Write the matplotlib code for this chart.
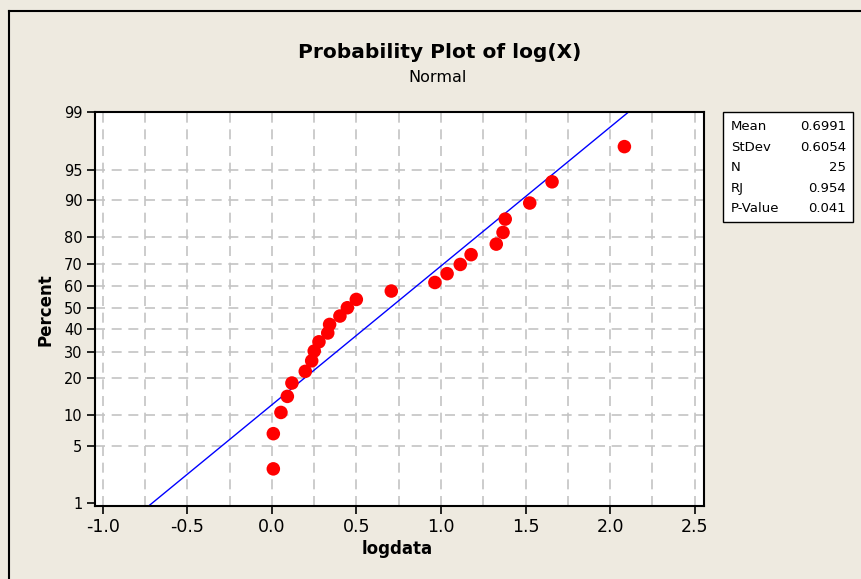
import matplotlib
matplotlib.use("Agg")
import matplotlib.pyplot as plt
from matplotlib.lines import Line2D
from matplotlib.patches import Rectangle
from statistics import NormalDist

# Sorted sample of log(X)
logdata = [0.008, 0.008, 0.053, 0.091, 0.118, 0.197, 0.235, 0.250, 0.278,
           0.330, 0.341, 0.402, 0.446, 0.499, 0.706, 0.964, 1.036, 1.114,
           1.178, 1.327, 1.367, 1.380, 1.525, 1.657, 2.085]

# Summary statistics of the fit
stat_names = ["Mean", "StDev", "N", "RJ", "P-Value"]
stat_values = ["0.6991", "0.6054", "25", "0.954", "0.041"]
mean_fit = 0.6991
sd_fit = 0.6054

percent_ticks = [1, 5, 10, 20, 30, 40, 50, 60, 70, 80, 90, 95, 99]
x_ticks = [-1.0, -0.5, 0.0, 0.5, 1.0, 1.5, 2.0, 2.5]

nd = NormalDist()
n = len(logdata)
# Median-rank plotting positions on the normal probability scale
z_pts = [nd.inv_cdf((i - 0.3) / (n + 0.4)) for i in range(1, n + 1)]
z_ticks = [nd.inv_cdf(p / 100) for p in percent_ticks]

W, H, DPI = 861, 579, 100
bg = "#EEEAE0"
fig = plt.figure(figsize=(W / DPI, H / DPI), dpi=DPI, facecolor=bg)
plt.rcParams["font.family"] = ["DejaVu Sans"]

# Outer frame: left and top edges
fx, fy = 8.5 / W, 1 - 10.5 / H
fig.add_artist(Line2D([fx, fx], [0, fy], transform=fig.transFigure,
                      color="black", lw=1.5))
fig.add_artist(Line2D([fx, 1], [fy, fy], transform=fig.transFigure,
                      color="black", lw=1.5))

L, R, T, B = 95, 704, 112, 506
ax = fig.add_axes([L / W, 1 - B / H, (R - L) / W, (B - T) / H])
ax.set_facecolor("white")

x_lo, x_hi = -1.047, 2.556
ax.set_xlim(x_lo, x_hi)
ax.set_ylim(-2.36, 2.33)

grid_kw = dict(color="#C4C4C4", lw=1.2, dashes=(6, 4), zorder=1)
for k in range(-4, 11):
    ax.axvline(k * 0.25, **grid_kw)
for zt, p in zip(z_ticks, percent_ticks):
    if p not in (1, 99):
        ax.axhline(zt, **grid_kw)

# Fitted normal line from mean and standard deviation
z_line = [nd.inv_cdf(0.01) - 0.1, nd.inv_cdf(0.99) + 0.1]
x_line = [mean_fit + sd_fit * z for z in z_line]
ax.plot(x_line, z_line, color="#0000FF", lw=1.0, zorder=2)

ax.scatter(logdata, z_pts, s=95, color="#FF0000", edgecolors="none", zorder=3)

ax.set_yticks(z_ticks)
ax.set_yticklabels([str(p) for p in percent_ticks])
ax.set_xticks(x_ticks)
ax.set_xticklabels([f"{v:.1f}" for v in x_ticks])
ax.tick_params(axis="both", direction="out", length=6, width=1.2,
               colors="black")
ax.tick_params(axis="x", pad=3, labelsize=12.5)
ax.tick_params(axis="y", pad=3, labelsize=10.5)
for s in ax.spines.values():
    s.set_linewidth(1.5)
    s.set_color("black")

fig.text(440 / W, 1 - 52 / H, "Probability Plot of log(X)", ha="center",
         va="center", fontsize=14.5, fontweight="bold")
fig.text(438 / W, 1 - 78 / H, "Normal", ha="center", va="center",
         fontsize=11.5)
fig.text(45 / W, 1 - 310 / H, "Percent", ha="center", va="center",
         rotation=90, fontsize=12, fontweight="bold")
fig.text(397 / W, 1 - 549 / H, "logdata", ha="center", va="center",
         fontsize=12, fontweight="bold")

# Statistics box
bx0, by0, bx1, by1 = 723, 112, 853, 222
fig.add_artist(Rectangle((bx0 / W, 1 - by1 / H), (bx1 - bx0) / W,
                         (by1 - by0) / H, transform=fig.transFigure,
                         facecolor="white", edgecolor="black", lw=1.0))
for i, (nm, val) in enumerate(zip(stat_names, stat_values)):
    yy = 127 + i * 20.5
    fig.text(731 / W, 1 - yy / H, nm, ha="left", va="center", fontsize=9.5)
    fig.text(846 / W, 1 - yy / H, val, ha="right", va="center", fontsize=9.5)

fig.savefig("out.png", dpi=DPI, facecolor=bg)
